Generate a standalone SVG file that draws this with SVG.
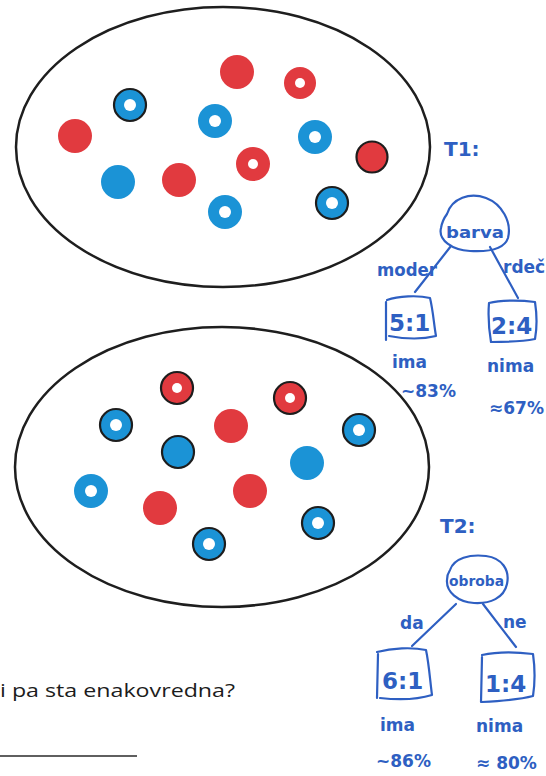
<svg xmlns="http://www.w3.org/2000/svg" width="546" height="776" viewBox="0 0 546 776">
  <style>
    .set { fill: none; stroke: #1e1e1e; stroke-width: 2.5; }
    .red { fill: #e13a3f; }
    .blue { fill: #1b93d6; }
    .ol { stroke: #1d1d1d; stroke-width: 2.2; }
    .hole { fill: #ffffff; }
    .ink { fill: none; stroke: #2e5fc2; stroke-width: 2.2; stroke-linecap: round; stroke-linejoin: round; }
    .hand { fill: #2e5fc2; font-family: "DejaVu Sans", "Noto Sans", sans-serif; font-weight: bold; }
    .print { fill: #1c1c1c; font-family: "Open Sans", "Liberation Sans", sans-serif; }
  </style>

  <rect width="546" height="776" fill="#ffffff"/>

  <!-- first set of points -->
  <g id="set1">
    <ellipse class="set" cx="223" cy="147" rx="207" ry="140"/>
    <circle class="red" cx="237" cy="72" r="17"/>
    <circle class="red" cx="300" cy="83" r="16"/><circle class="hole" cx="300" cy="83" r="5"/>
    <circle class="blue ol" cx="130" cy="105" r="16"/><circle class="hole" cx="130" cy="105" r="6"/>
    <circle class="blue" cx="215" cy="121" r="17"/><circle class="hole" cx="215" cy="121" r="6"/>
    <circle class="red" cx="75" cy="136" r="17"/>
    <circle class="blue" cx="315" cy="137" r="17"/><circle class="hole" cx="315" cy="137" r="6"/>
    <circle class="red ol" cx="372" cy="157" r="15.5" stroke-width="1.6"/>
    <circle class="blue" cx="118" cy="182" r="17"/>
    <circle class="red" cx="179" cy="180" r="17"/>
    <circle class="red" cx="253" cy="164" r="17"/><circle class="hole" cx="253" cy="164" r="5"/>
    <circle class="blue" cx="225" cy="212" r="17"/><circle class="hole" cx="225" cy="212" r="6"/>
    <circle class="blue ol" cx="332" cy="203" r="16"/><circle class="hole" cx="332" cy="203" r="6"/>
  </g>

  <!-- second set of points -->
  <g id="set2">
    <ellipse class="set" cx="222" cy="467" rx="207" ry="140"/>
    <circle class="red ol" cx="177" cy="388" r="16"/><circle class="hole" cx="177" cy="388" r="5"/>
    <circle class="red ol" cx="290" cy="398" r="16"/><circle class="hole" cx="290" cy="398" r="5"/>
    <circle class="blue ol" cx="116" cy="425" r="16"/><circle class="hole" cx="116" cy="425" r="6"/>
    <circle class="red" cx="231" cy="426" r="17"/>
    <circle class="blue ol" cx="359" cy="430" r="16"/><circle class="hole" cx="359" cy="430" r="6"/>
    <circle class="blue ol" cx="178" cy="452" r="16"/>
    <circle class="blue" cx="307" cy="463" r="17"/>
    <circle class="blue" cx="91" cy="491" r="17"/><circle class="hole" cx="91" cy="491" r="6"/>
    <circle class="red" cx="160" cy="508" r="17"/>
    <circle class="red" cx="250" cy="491" r="17"/>
    <circle class="blue ol" cx="318" cy="523" r="16"/><circle class="hole" cx="318" cy="523" r="6"/>
    <circle class="blue ol" cx="209" cy="544" r="16"/><circle class="hole" cx="209" cy="544" r="6"/>
  </g>

  <!-- tree edges -->
  <g id="connectors">
    <path class="ink" d="M451 246 L415 292"/>
    <path class="ink" d="M490 247 L518 298"/>
    <path class="ink" d="M456 604 L412 646"/>
    <path class="ink" d="M483 604 L516 647"/>
  </g>

  <!-- tree T1 -->
  <text class="hand" x="444" y="156" font-size="20">T1:</text>
  <g id="t1-root">
    <path class="ink" d="M447 214 C452 198 470 192 486 198 C502 204 512 222 508 238 C504 250 488 252 470 251 C452 250 438 240 441 228 C442 222 444 218 447 214 Z"/>
    <text class="hand" x="446" y="238" font-size="16" textLength="58" lengthAdjust="spacingAndGlyphs">barva</text>
  </g>
  <text class="hand" x="377" y="276" font-size="17" textLength="60" lengthAdjust="spacingAndGlyphs">moder</text>
  <text class="hand" x="503" y="273" font-size="17">rdeč</text>
  <g id="t1-left">
    <path class="ink" d="M387 300 C398 296 418 295 430 298 C433 310 434 325 436 336 C420 340 405 339 389 336 M386 302 L386 340"/>
    <text class="hand" x="389" y="331" font-size="23">5:1</text>
  </g>
  <g id="t1-right">
    <path class="ink" d="M489 303 C500 300 520 300 535 302 C537 315 537 328 535 339 C520 342 504 342 491 342 C489 330 488 315 489 303 Z"/>
    <text class="hand" x="491" y="334" font-size="23">2:4</text>
  </g>
  <text class="hand" x="392" y="368" font-size="17">ima</text>
  <text class="hand" x="401" y="397" font-size="17">~83%</text>
  <text class="hand" x="487" y="372" font-size="17">nima</text>
  <text class="hand" x="489" y="414" font-size="17">≈67%</text>

  <!-- tree T2 -->
  <text class="hand" x="440" y="533" font-size="20">T2:</text>
  <g id="t2-root">
    <path class="ink" d="M450 570 C454 558 470 554 486 556 C502 558 510 570 507 584 C504 598 490 604 474 603 C458 602 446 592 447 580 C447 576 448 573 450 570 Z"/>
    <text class="hand" x="449" y="586" font-size="14" textLength="55" lengthAdjust="spacingAndGlyphs">obroba</text>
  </g>
  <text class="hand" x="400" y="629" font-size="17">da</text>
  <text class="hand" x="503" y="628" font-size="17">ne</text>
  <g id="t2-left">
    <path class="ink" d="M377 652 C392 648 412 647 426 650 C429 664 430 680 432 695 C416 700 398 700 380 698 M378 654 L377 698"/>
    <text class="hand" x="382" y="689" font-size="23">6:1</text>
  </g>
  <g id="t2-right">
    <path class="ink" d="M482 655 C496 652 516 652 533 654 C535 668 535 683 533 696 C518 700 500 701 482 702 M482 657 L481 702"/>
    <text class="hand" x="485" y="692" font-size="23">1:4</text>
  </g>
  <text class="hand" x="380" y="731" font-size="17">ima</text>
  <text class="hand" x="376" y="767" font-size="17">~86%</text>
  <text class="hand" x="476" y="732" font-size="17">nima</text>
  <text class="hand" x="476" y="769" font-size="17">≈ 80%</text>

  <!-- printed question and rule -->
  <text class="print" x="0" y="697" font-size="19" textLength="235" lengthAdjust="spacingAndGlyphs">i pa sta enakovredna?</text>
  <line x1="0" y1="756" x2="137" y2="756" stroke="#2a2a2a" stroke-width="1.6"/>
</svg>
